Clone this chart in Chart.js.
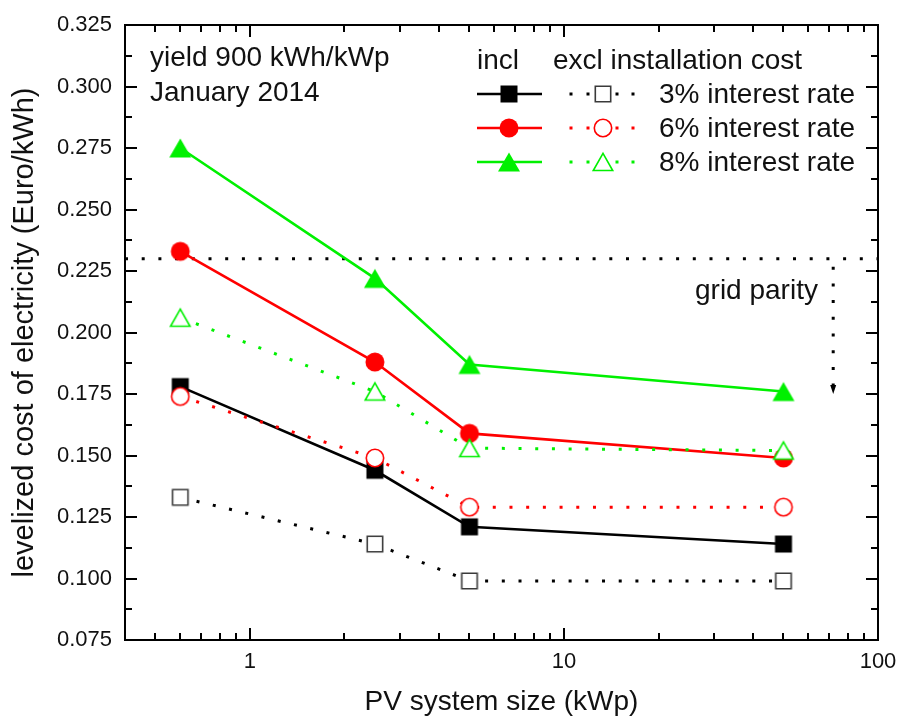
<!DOCTYPE html>
<html>
<head>
<meta charset="utf-8">
<script src="https://cdn.jsdelivr.net/npm/chart.js@4/dist/chart.umd.min.js"></script>
<style>
  html, body { margin: 0; padding: 0; background: #fff; }
  #wrap { width: 900px; height: 720px; }
</style>
</head>
<body>
<div id="wrap"><canvas id="lcoe" width="900" height="720"></canvas></div>
<script>
// PV system sizes (kWp)
const systemSize = [0.6, 2.5, 5, 50];

// Levelized cost of electricity (Euro/kWh), including installation cost
const incl3 = [0.178, 0.144, 0.121, 0.114];
const incl6 = [0.233, 0.188, 0.159, 0.149];
const incl8 = [0.275, 0.222, 0.187, 0.176];

// Levelized cost of electricity (Euro/kWh), excluding installation cost
const excl3 = [0.133, 0.114, 0.099, 0.099];
const excl6 = [0.174, 0.149, 0.129, 0.129];
const excl8 = [0.206, 0.176, 0.153, 0.152];

const rateLabels = ['3% interest rate', '6% interest rate', '8% interest rate'];

// Axis ticks
const xTicks = [1, 10, 100];
const xMinorTicks = [0.5, 0.6, 0.7, 0.8, 0.9, 2, 3, 4, 5, 6, 7, 8, 9, 20, 30, 40, 50, 60, 70, 80, 90];
const yTicks = [0.075, 0.100, 0.125, 0.150, 0.175, 0.200, 0.225, 0.250, 0.275, 0.300, 0.325];

// Grid parity level and its arrow
const gridParity = 0.230;
const parityArrowX = 72;
const parityArrowTip = 0.175;

const FONT = '"Liberation Sans", Arial, Helvetica, sans-serif';
const BLACK = '#000000';
const RED = '#ff0000';
const GREEN = '#00f000';
const GREY = '#3a3a3a';

// Marker images (centred on the data point)
function makeMarker(shape, fill, stroke, lw) {
  const size = 26, c = size / 2;
  const cv = document.createElement('canvas');
  cv.width = size; cv.height = size;
  const g = cv.getContext('2d');
  g.beginPath();
  if (shape === 'square') {
    const h = 8.5 - (stroke ? lw / 2 : 0);
    g.rect(c - h, c - h, 2 * h, 2 * h);
  } else if (shape === 'circle') {
    const r = 9.5 - (stroke ? lw / 2 : 0);
    g.arc(c, c, r, 0, Math.PI * 2);
  } else {
    const hw = 11 - (stroke ? lw * 0.8 : 0), hh = 9.5 - (stroke ? lw * 0.6 : 0);
    g.moveTo(c, c - hh);
    g.lineTo(c + hw, c + hh);
    g.lineTo(c - hw, c + hh);
    g.closePath();
  }
  g.fillStyle = fill;
  g.fill();
  if (stroke) {
    g.lineWidth = lw;
    g.strokeStyle = stroke;
    g.lineJoin = 'miter';
    g.stroke();
  }
  return cv;
}

const mk = {
  incl3: makeMarker('square', BLACK),
  incl6: makeMarker('circle', RED),
  incl8: makeMarker('triangle', GREEN),
  excl3: makeMarker('square', '#ffffff', GREY, 1.6),
  excl6: makeMarker('circle', '#ffffff', RED, 1.6),
  excl8: makeMarker('triangle', '#ffffff', GREEN, 1.6)
};

function series(label, values, color, dotted, img) {
  return {
    label,
    data: systemSize.map((x, i) => ({ x, y: values[i] })),
    borderColor: color,
    backgroundColor: color,
    borderWidth: dotted ? 3 : 2.6,
    borderDash: dotted ? [3, 13.7] : [],
    pointStyle: img,
    pointRadius: 10,
    pointHoverRadius: 10,
    fill: false,
    tension: 0
  };
}

// Open markers listed first so they are painted above the filled ones
const datasets = [
  series('excl 3%', excl3, BLACK, true, mk.excl3),
  series('excl 6%', excl6, RED, true, mk.excl6),
  series('excl 8%', excl8, GREEN, true, mk.excl8),
  series('incl 3%', incl3, BLACK, false, mk.incl3),
  series('incl 6%', incl6, RED, false, mk.incl6),
  series('incl 8%', incl8, GREEN, false, mk.incl8)
];

const decor = {
  id: 'decor',
  beforeDatasetsDraw(chart) {
    const { ctx, chartArea: a, scales: { x, y } } = chart;
    ctx.save();
    ctx.strokeStyle = BLACK;
    ctx.fillStyle = BLACK;
    ctx.lineWidth = 3;
    ctx.setLineDash([3, 13.7]);
    const gy = y.getPixelForValue(gridParity);
    ctx.beginPath();
    ctx.moveTo(a.left, gy);
    ctx.lineTo(a.right, gy);
    ctx.stroke();
    const ax = x.getPixelForValue(parityArrowX);
    const ty = y.getPixelForValue(parityArrowTip);
    ctx.beginPath();
    ctx.moveTo(ax, gy + 8);
    ctx.lineTo(ax, ty - 9);
    ctx.stroke();
    ctx.setLineDash([]);
    ctx.beginPath();
    ctx.moveTo(ax - 3, ty - 9);
    ctx.lineTo(ax + 3, ty - 9);
    ctx.lineTo(ax, ty);
    ctx.closePath();
    ctx.fill();
    ctx.restore();
  },
  afterDraw(chart) {
    const { ctx, chartArea: a, scales: { x, y } } = chart;
    ctx.save();
    // frame and inward ticks on all four sides
    ctx.strokeStyle = BLACK;
    ctx.lineWidth = 2;
    ctx.strokeRect(a.left, a.top, a.right - a.left, a.bottom - a.top);
    ctx.beginPath();
    const yMinor = yTicks.slice(0, -1).map((v, i) => (v + yTicks[i + 1]) / 2);
    const yMarks = yTicks.map(v => [v, 12]).concat(yMinor.map(v => [v, 7]));
    yMarks.forEach(([v, len]) => {
      const py = Math.round(y.getPixelForValue(v));
      ctx.moveTo(a.left, py); ctx.lineTo(a.left + len, py);
      ctx.moveTo(a.right, py); ctx.lineTo(a.right - len, py);
    });
    const xMarks = xTicks.map(v => [v, 12]).concat(xMinorTicks.map(v => [v, 7]));
    xMarks.forEach(([v, len]) => {
      const px = Math.round(x.getPixelForValue(v));
      ctx.moveTo(px, a.bottom); ctx.lineTo(px, a.bottom - len);
      ctx.moveTo(px, a.top); ctx.lineTo(px, a.top + len);
    });
    ctx.stroke();

    // annotations
    ctx.fillStyle = '#111';
    ctx.font = '28px ' + FONT;
    ctx.textBaseline = 'middle';
    ctx.textAlign = 'left';
    ctx.fillText('yield 900 kWh/kWp', 150, 58);
    ctx.fillText('January 2014', 150, 93);
    ctx.fillText('grid parity', 695, 291);

    // legend: incl (solid) and excl (dotted) columns
    ctx.fillText('incl', 477, 61);
    ctx.fillText('excl installation cost', 553, 61);
    const rows = [
      [BLACK, mk.incl3, mk.excl3],
      [RED, mk.incl6, mk.excl6],
      [GREEN, mk.incl8, mk.excl8]
    ];
    const rowY = [94, 128, 162];
    rows.forEach(([color, solidImg, openImg], i) => {
      const ry = rowY[i];
      ctx.strokeStyle = color;
      ctx.lineWidth = 2.6;
      ctx.setLineDash([]);
      ctx.beginPath();
      ctx.moveTo(477, ry); ctx.lineTo(542, ry);
      ctx.stroke();
      ctx.drawImage(solidImg, 509 - solidImg.width / 2, ry - solidImg.height / 2);
      ctx.fillStyle = color;
      [571, 588, 617, 633].forEach(dx => ctx.fillRect(dx - 1.5, ry - 1.5, 3, 3));
      ctx.drawImage(openImg, 603 - openImg.width / 2, ry - openImg.height / 2);
      ctx.fillStyle = '#111';
      ctx.fillText(rateLabels[i], 659, ry + 1);
    });
    ctx.restore();
  }
};

new Chart(document.getElementById('lcoe'), {
  type: 'line',
  data: { datasets },
  options: {
    responsive: false,
    devicePixelRatio: 1,
    animation: false,
    events: [],
    layout: { padding: { top: 25, right: 22, left: 0, bottom: 0 } },
    plugins: { legend: { display: false }, tooltip: { enabled: false } },
    scales: {
      x: {
        type: 'logarithmic',
        min: 0.4,
        max: 100,
        grid: { display: false, drawTicks: false },
        border: { display: false },
        afterBuildTicks: s => { s.ticks = xTicks.map(v => ({ value: v })); },
        afterFit: s => { s.height = 80; s.paddingLeft = 0; s.paddingRight = 0; },
        ticks: {
          autoSkip: false,
          maxRotation: 0,
          padding: 9,
          color: '#111',
          font: { family: FONT, size: 22 },
          callback: v => String(v)
        },
        title: {
          display: true,
          text: 'PV system size (kWp)',
          color: '#111',
          font: { family: FONT, size: 28 },
          padding: { top: 0, bottom: 1 }
        }
      },
      y: {
        type: 'linear',
        min: 0.075,
        max: 0.325,
        grid: { display: false, drawTicks: false },
        border: { display: false },
        afterBuildTicks: s => { s.ticks = yTicks.map(v => ({ value: v })); },
        afterFit: s => { s.width = 125; s.paddingTop = 0; s.paddingBottom = 0; },
        ticks: {
          autoSkip: false,
          padding: 13,
          color: '#111',
          font: { family: FONT, size: 22 },
          callback: v => Number(v).toFixed(3)
        },
        title: {
          display: true,
          text: 'levelized cost of electricity (Euro/kWh)',
          color: '#111',
          font: { family: FONT, size: 29 },
          padding: { top: 8, bottom: 0 }
        }
      }
    }
  },
  plugins: [decor]
});
</script>
</body>
</html>
